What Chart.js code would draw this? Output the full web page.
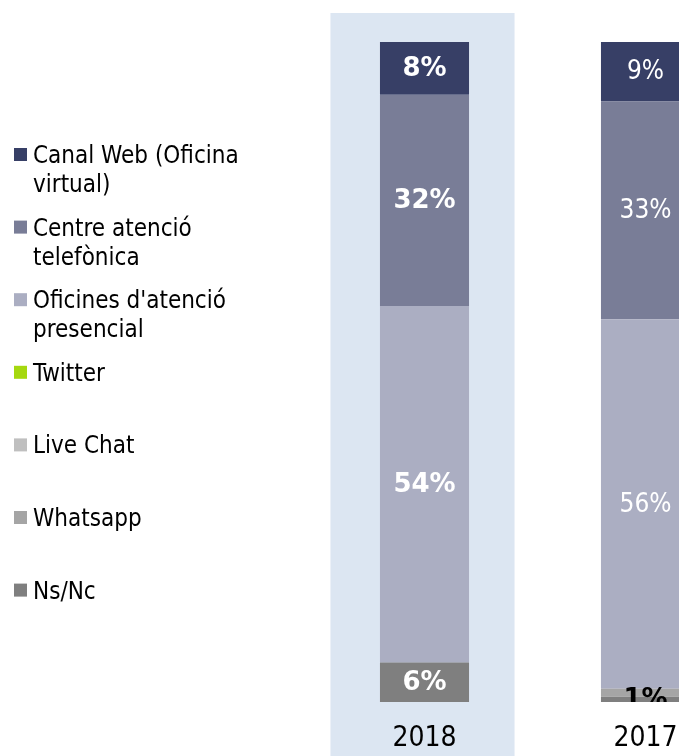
<!DOCTYPE html>
<html>
<head>
<meta charset="utf-8">
<script src="https://cdn.jsdelivr.net/npm/chart.js@4/dist/chart.umd.min.js"></script>
<style>
  html, body { margin: 0; padding: 0; background: #ffffff; overflow: hidden; width: 679px; height: 756px; }
  #wrap { position: absolute; left: 0; top: 0; width: 756px; height: 756px; }
</style>
</head>
<body>
<div id="wrap"><canvas id="c" width="756" height="756"></canvas></div>
<script>
// ---- data ----
const categories = ['2018', '2017'];
const seriesNames = ['Canal Web (Oficina virtual)', 'Centre atenció telefònica', "Oficines d'atenció presencial", 'Twitter', 'Live Chat', 'Whatsapp', 'Ns/Nc'];
const legendLines = [['Canal Web (Oficina', 'virtual)'], ['Centre atenció', 'telefònica'], ["Oficines d'atenció", 'presencial'], ['Twitter'], ['Live Chat'], ['Whatsapp'], ['Ns/Nc']];
const canalWeb = [8, 9];
const centreTelefonica = [32, 33];
const oficinesPresencial = [54, 56];
const twitter = [0, 0];
const liveChat = [0, 0];
const whatsapp = [0, 1.2];
const nsNc = [6, 0.8];
const seriesValues = [canalWeb, centreTelefonica, oficinesPresencial, twitter, liveChat, whatsapp, nsNc];
const seriesColors = ['#373f66', '#797d97', '#abaec2', '#a5d80f', '#bfbfbf', '#a5a5a5', '#7f7f7f'];

const FONT = "'DejaVu Sans Condensed', 'DejaVu Sans', sans-serif";
const BOLD_FONT = "'DejaVu Sans', sans-serif";

// datasets: bottom of stack first (Ns/Nc at bottom, Canal Web at top)
const datasets = [];
for (let i = seriesNames.length - 1; i >= 0; i--) {
  datasets.push({
    label: seriesNames[i],
    data: seriesValues[i],
    backgroundColor: seriesColors[i],
    borderWidth: 0,
    categoryPercentage: 1,
    barPercentage: 0.403
  });
}

const highlightPlugin = {
  id: 'highlight',
  beforeDraw(chart) {
    const ctx = chart.ctx, xs = chart.scales.x, ca = chart.chartArea;
    const x0 = xs.getPixelForValue(0), x1 = xs.getPixelForValue(1);
    const w = (x1 - x0) * 0.833;
    ctx.save();
    ctx.fillStyle = '#dce6f2';
    ctx.fillRect(x0 - w / 2 - 2, ca.top - 29, w, chart.height - (ca.top - 29));
    ctx.restore();
  }
};

const labelPlugin = {
  id: 'barLabels',
  afterDatasetsDraw(chart) {
    const ctx = chart.ctx, ca = chart.chartArea;
    ctx.save();
    ctx.beginPath();
    ctx.rect(ca.left, ca.top, ca.right - ca.left, ca.bottom - ca.top);
    ctx.clip();
    ctx.textAlign = 'center';
    ctx.textBaseline = 'middle';
    categories.forEach((cat, ci) => {
      let lastY = null;
      chart.data.datasets.forEach((ds, di) => {
        const v = ds.data[ci];
        if (!v || v <= 0) return;
        const el = chart.getDatasetMeta(di).data[ci];
        const y = (el.y + el.base) / 2;
        if (lastY !== null && Math.abs(lastY - y) < 18) return;
        lastY = y;
        const small = v < 3;
        const bold = ci === 0 || small;
        ctx.font = bold ? ('bold 26px ' + BOLD_FONT) : ('26px ' + FONT);
        ctx.fillStyle = small ? '#000000' : '#ffffff';
        ctx.fillText(Math.round(v) + '%', el.x, y + 1);
      });
    });
    ctx.restore();
  }
};

const legendPlugin = {
  id: 'sideLegend',
  afterDraw(chart) {
    const ctx = chart.ctx;
    ctx.save();
    ctx.font = '24px ' + FONT;
    ctx.textBaseline = 'alphabetic';
    ctx.textAlign = 'left';
    legendLines.forEach((lines, i) => {
      const top = 148 + i * 72.6;
      ctx.fillStyle = seriesColors[i];
      ctx.fillRect(14, top, 13, 13);
      ctx.fillStyle = '#000000';
      lines.forEach((ln, k) => {
        ctx.fillText(ln, 33, top + 15 + k * 29);
      });
    });
    ctx.restore();
  }
};

new Chart(document.getElementById('c'), {
  type: 'bar',
  data: { labels: categories, datasets },
  options: {
    responsive: false,
    animation: false,
    layout: { padding: { left: 314, right: 0, top: 42, bottom: -20 } },
    plugins: { legend: { display: false }, tooltip: { enabled: false } },
    scales: {
      x: {
        stacked: true,
        grid: { display: false, drawTicks: false },
        border: { display: false },
        ticks: { color: '#000000', font: { family: FONT, size: 28, lineHeight: 1 }, padding: 23 }
      },
      y: {
        stacked: true,
        display: false,
        min: 0,
        max: 100
      }
    }
  },
  plugins: [highlightPlugin, labelPlugin, legendPlugin]
});
</script>
</body>
</html>
